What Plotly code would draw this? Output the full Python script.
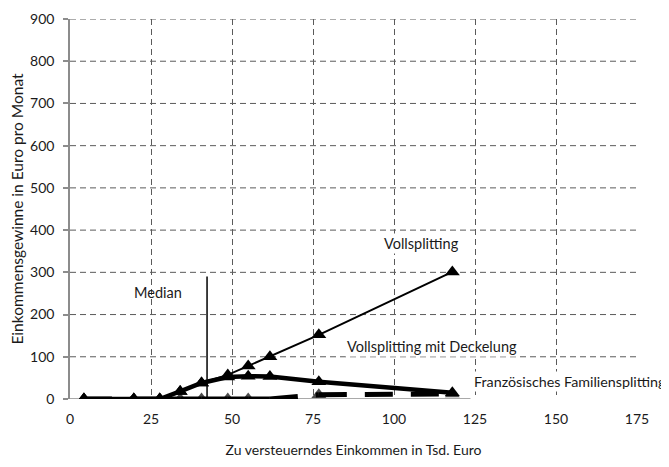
import plotly.graph_objects as go

# ---- data ----
income = [4.3, 19.7, 27.7, 34.0, 40.6, 48.7, 55.0, 61.7, 76.8, 118.0]
vollsplitting = [0, 0, 0, 18, 38, 57, 78, 100, 152, 301]
deckelung = [0, 0, 0, 18, 38, 52, 54, 53, 41, 15]
franz = [0, 0, 0, 0, 0, 0, 0, 0, 10, 12]
franz_marker = [1, 1, 1, 1, 1, 1, 1, 0, 1, 1]
x_ticks = [0, 25, 50, 75, 100, 125, 150, 175]
x_ticks_marked = [0, 25, 50, 75, 100]
y_ticks = [0, 100, 200, 300, 400, 500, 600, 700, 800, 900]
median_income = 42.3
median_top = 290
axis_line_end = 123.6

FONT = "Lato"
TXT = "#1a1a1a"
GRID = "#5a5a5a"
AXIS = "#8c8c8c"
MS = 13
tri = dict(symbol="triangle-up", size=MS, color="black", line=dict(width=0))

fig = go.Figure()

# Französisches Familiensplitting: dashed, Excel-like dash restart per segment
for i in range(len(income) - 1):
    fig.add_trace(go.Scatter(
        x=[income[i], income[i + 1]], y=[franz[i], franz[i + 1]],
        mode="lines", line=dict(color="black", width=5, dash="28px,18px"),
        showlegend=False, hoverinfo="skip"))
fig.add_trace(go.Scatter(
    x=income, y=franz, mode="markers",
    marker=dict(symbol="triangle-up", color="black",
                size=[MS * v for v in franz_marker], line=dict(width=0)),
    showlegend=False))

fig.add_trace(go.Scatter(x=income, y=deckelung, mode="lines+markers",
                         line=dict(color="black", width=4.5), marker=tri,
                         showlegend=False))
fig.add_trace(go.Scatter(x=income, y=vollsplitting, mode="lines+markers",
                         line=dict(color="black", width=2), marker=tri,
                         showlegend=False))

shapes = []
# horizontal dashed grid (not at zero)
for v in y_ticks[1:]:
    shapes.append(dict(type="line", xref="x", yref="y", x0=0, x1=175, y0=v, y1=v,
                       line=dict(color=GRID, width=1, dash="6px,4px"), layer="below"))
# x axis line and tick marks
shapes.append(dict(type="line", xref="x", yref="y", x0=0, x1=axis_line_end, y0=0, y1=0,
                   line=dict(color=AXIS, width=1.5), layer="below"))
for v in x_ticks_marked:
    shapes.append(dict(type="line", xref="x", yref="y", ysizemode="pixel", yanchor=0,
                       x0=v, x1=v, y0=0, y1=-6,
                       line=dict(color=AXIS, width=1.5), layer="below"))
# median line
shapes.append(dict(type="line", xref="x", yref="y", x0=median_income, x1=median_income,
                   y0=-20, y1=median_top, line=dict(color="black", width=1.5)))

AF = dict(family=FONT, size=14.5, color=TXT)
annotations = [
    dict(x=27.3, y=252, text="Median", showarrow=False, font=AF),
    dict(x=108.5, y=368, text="Vollsplitting", showarrow=False, bgcolor="white", font=AF),
    dict(x=111.6, y=124, text="Vollsplitting mit Deckelung", showarrow=False,
         bgcolor="white", font=AF),
    dict(x=154.3, y=41, text="Französisches Familiensplitting", showarrow=False,
         bgcolor="white", font=dict(family=FONT, size=14.3, color=TXT)),
]

# the page body adds an 8px offset; margins compensate for it
fig.update_layout(
    width=669, height=467,
    margin=dict(l=62, r=40, t=11, b=76),
    paper_bgcolor="white", plot_bgcolor="white",
    font=dict(family=FONT, color=TXT),
    showlegend=False,
    shapes=shapes, annotations=annotations,
    xaxis=dict(range=[0, 175], tickvals=x_ticks, ticktext=[str(v) for v in x_ticks],
               automargin=False,
               showgrid=True, gridcolor=GRID, gridwidth=1, griddash="6px,4px",
               zeroline=False, showline=False, ticks="",
               ticklabelstandoff=10,
               tickfont=dict(family=FONT, size=14, color=TXT),
               title=dict(text="Zu versteuerndes Einkommen in Tsd. Euro",
                          font=dict(family=FONT, size=14, color=TXT), standoff=19)),
    yaxis=dict(range=[0, 900], tickvals=y_ticks, ticktext=[str(v) for v in y_ticks],
               automargin=False,
               showgrid=False, zeroline=False, showline=True, linecolor=AXIS,
               linewidth=1.5, ticks="outside", ticklen=5, tickcolor=AXIS, tickwidth=1.5,
               ticklabelstandoff=6,
               tickfont=dict(family=FONT, size=14, color=TXT),
               title=dict(text="Einkommensgewinne in Euro pro Monat",
                          font=dict(family=FONT, size=15.5, color=TXT), standoff=3)),
)

fig.write_html("out.html")
